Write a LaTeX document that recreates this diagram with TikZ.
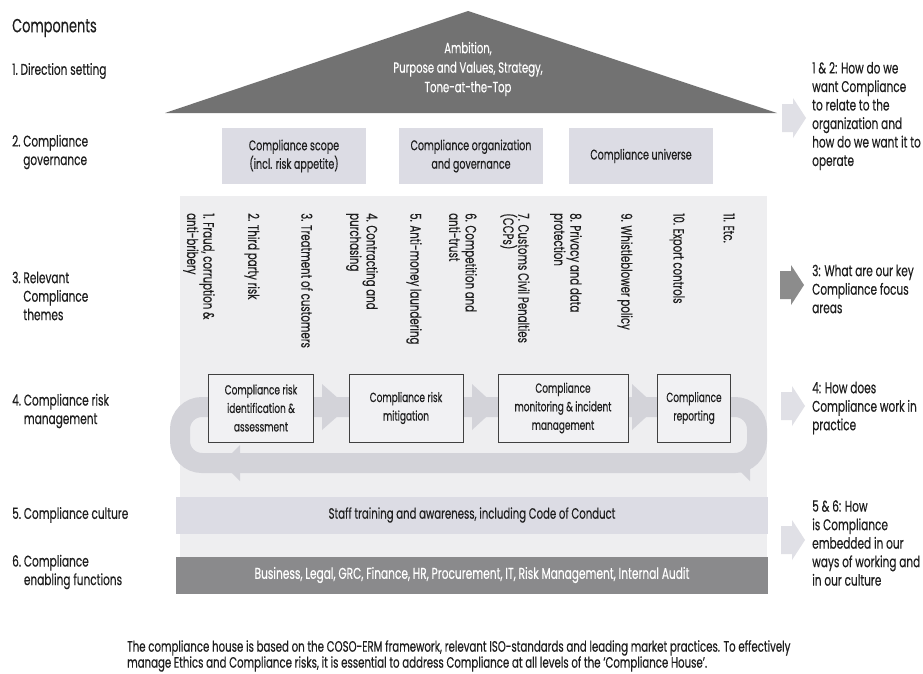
\documentclass[tikz,border=0pt]{standalone}
\usepackage{fontspec}
\setmainfont{Poppins}[FakeStretch=0.68,FakeBold=0.3]
\definecolor{roofgray}{HTML}{727272}
\definecolor{panel}{HTML}{DCDCE4}
\definecolor{bodybg}{HTML}{EEEEF0}
\definecolor{loopgray}{HTML}{D3D3D9}
\definecolor{basegray}{HTML}{8A8A8C}
\definecolor{boxfill}{HTML}{F1F1F3}
\definecolor{txt}{HTML}{1E1E1E}
\definecolor{sidearrow}{HTML}{E0E0E6}
\definecolor{sidearrowdark}{HTML}{8C8C8C}
\begin{document}
\begin{tikzpicture}[x=1pt,y=-1pt,
  every node/.style={text=txt, inner sep=0pt},
  lbl/.style={anchor=west, align=left, font=\fontsize{15.5}{18.5}\selectfont},
  roomtext/.style={align=center, font=\fontsize{14}{18.5}\selectfont},
  govbox/.style={roomtext, fill=panel, minimum height=56pt},
  riskbox/.style={roomtext, font=\fontsize{13.2}{18.5}\selectfont, fill=boxfill, draw=black!75, line width=0.8pt, minimum height=68pt},
  theme/.style={rotate=-90, anchor=west, align=left, font=\fontsize{15}{13.5}\selectfont},
  bar/.style={minimum height=37pt, minimum width=592pt},
  loopband/.style={draw=loopgray, line width=20pt, rounded corners=22pt},
  loophead/.style={fill=loopgray},
  sidearr/.style={fill=sidearrow},
]
\useasboundingbox (0,0) rectangle (923,673);
\fill[white] (0,0) rectangle (923,673);

% house body background
\fill[bodybg] (180,196) rectangle (767,594);

% roof: direction setting
\fill[roofgray] (165,113) -- (468,11) -- (777,113) -- cycle;
\node[roomtext, text=white, font=\fontsize{14.8}{19.5}\selectfont] (roof) at (468,69)
  {Ambition,\\Purpose and Values, Strategy,\\Tone-at-the-Top};

% governance rooms
\node[govbox, minimum width=144pt] (g1) at (294,156) {Compliance scope\\(incl. risk appetite)};
\node[govbox, minimum width=144pt] (g2) at (471,156) {Compliance organization\\and governance};
\node[govbox, minimum width=144pt] (g3) at (641,156) {Compliance universe};

% compliance themes
\node[theme] (t1) at (199,213) {1. Fraud, corruption \&\\anti-bribery};
\node[theme] (t2) at (252,213) {2. Third party risk};
\node[theme] (t3) at (307,213) {3. Treatment of customers};
\node[theme] (t4) at (362,213) {4. Contracting and\\purchasing};
\node[theme] (t5) at (414,213) {5. Anti-money laundering};
\node[theme] (t6) at (463,213) {6. Competition and\\anti-trust};
\node[theme] (t7) at (515,213) {7. Customs Civil Penalties\\(CCPs)};
\node[theme] (t8) at (566,213) {8. Privacy and data\\protection};
\node[theme] (t9) at (625,213) {9. Whistleblower policy};
\node[theme] (t10) at (677,213) {10. Export controls};
\node[theme] (t11) at (729,213) {11. Etc.};

% risk management cycle
\draw[loopband] (470,407) -- (757,407) -- (757,463) -- (180,463) -- (180,407) -- cycle;
\fill[loophead] (322,384) -- (348,407) -- (322,430) -- cycle;
\fill[loophead] (472,384) -- (497,407) -- (472,430) -- cycle;
\fill[loophead] (632,384) -- (657,407) -- (632,430) -- cycle;
\fill[loophead] (240,445) -- (222,463) -- (240,481) -- cycle;
\fill[loophead] (750,445) -- (732,463) -- (750,481) -- cycle;

\node[riskbox, minimum width=105pt] (r1) at (261,408) {Compliance risk\\identification \&\\assessment};
\node[riskbox, minimum width=114pt] (r2) at (406,408) {Compliance risk\\mitigation};
\node[riskbox, minimum width=130pt] (r3) at (563,408) {Compliance\\monitoring \& incident\\management};
\node[riskbox, minimum width=73pt] (r4) at (694,408) {Compliance\\reporting};

% culture and enabling functions
\node[bar, fill=panel, font=\fontsize{14.9}{16}\selectfont] (culture) at (472,515) {Staff training and awareness, including Code of Conduct};
\node[bar, fill=basegray, text=white, font=\fontsize{15.6}{16}\selectfont] (enabling) at (472,575) {Business, Legal, GRC, Finance, HR, Procurement, IT, Risk Management, Internal Audit};

% component labels
\node[anchor=west, font=\fontsize{19}{20}\selectfont] (head) at (12,28) {Components};
\node[lbl] (c1) at (12,71) {1.~Direction setting};
\node[lbl] (c2) at (12,152) {2.~Compliance\\\phantom{2.~}governance};
\node[lbl] (c3) at (12,296) {3.~Relevant\\\phantom{3.~}Compliance\\\phantom{3.~}themes};
\node[lbl] (c4) at (12,411) {4.~Compliance risk\\\phantom{4.~}management};
\node[lbl] (c5) at (12,515) {5.~Compliance culture};
\node[lbl] (c6) at (12,572) {6.~Compliance\\\phantom{6.~}enabling functions};

% questions on the right
\fill[sidearr] (782,104) -- (793,104) -- (793,98) -- (806,118) -- (793,138) -- (793,132) -- (782,132) -- cycle;
\fill[sidearr, fill=sidearrowdark] (780,271) -- (791,271) -- (791,265) -- (804,285) -- (791,305) -- (791,299) -- (780,299) -- cycle;
\fill[sidearr] (781,392) -- (792,392) -- (792,386) -- (805,406) -- (792,426) -- (792,420) -- (781,420) -- cycle;
\fill[sidearr] (781,526) -- (792,526) -- (792,520) -- (805,540) -- (792,560) -- (792,554) -- (781,554) -- cycle;

\node[lbl] (q1) at (812,116) {1 \& 2: How do we\\want Compliance\\to relate to the\\organization and\\how do we want it to\\operate};
\node[lbl] (q3) at (812,289) {3: What are our key\\Compliance focus\\areas};
\node[lbl] (q4) at (812,408) {4: How does\\Compliance work in\\practice};
\node[lbl] (q5) at (812,543) {5 \& 6: How\\is Compliance\\embedded in our\\ways of working and\\in our culture};

% footnote
\node[anchor=north west, align=left, font=\fontsize{15}{16}\selectfont] (note) at (127,640)
  {The compliance house is based on the COSO-ERM framework, relevant ISO-standards and leading market practices. To effectively\\manage Ethics and Compliance risks, it is essential to address Compliance at all levels of the `Compliance House'.};
\end{tikzpicture}
\end{document}
